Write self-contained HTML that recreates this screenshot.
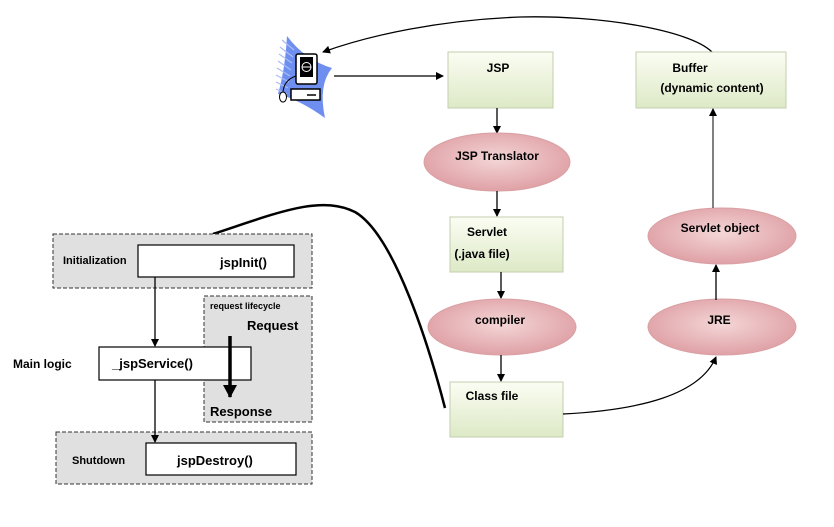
<!DOCTYPE html>
<html><head><style>
body{margin:0;background:#fff;width:834px;height:522px;overflow:hidden}
svg text{font-family:"Liberation Sans",sans-serif;font-weight:bold}
</style></head><body>
<svg width="834" height="522" viewBox="0 0 834 522" xmlns="http://www.w3.org/2000/svg">
<defs>
<linearGradient id="g" x1="0" y1="0" x2="0" y2="1"><stop offset="0" stop-color="#fbfdf3"/><stop offset="1" stop-color="#dde9c6"/></linearGradient>
<radialGradient id="r" cx="0.5" cy="0.45" r="0.6"><stop offset="0" stop-color="#f4d6d7"/><stop offset="1" stop-color="#dd9ca1"/></radialGradient>
<marker id="a" markerWidth="8" markerHeight="8" refX="7" refY="4" orient="auto" markerUnits="userSpaceOnUse"><path d="M0,0 L8,4 L0,8z" fill="#000"/></marker>
<marker id="b" markerWidth="14" markerHeight="14" refX="12" refY="7" orient="auto" markerUnits="userSpaceOnUse"><path d="M0,0 L13,7 L0,14z" fill="#000"/></marker>
</defs>
<!-- computer icon -->
<path d="M287,36 Q305,60 332,68 Q318,85 325,118 Q300,100 278,94 Q285,70 287,36 Z" fill="#6f8ff0"/>
<g stroke="#a9bcf5" stroke-width="1.2">
<path d="M282,40 L294,50 M280,47 L293,57 M279,54 L292,63 M278,61 L291,70 M277,68 L290,76 M276,75 L289,82 M276,82 L288,88 M276,89 L287,94"/>
</g>
<rect x="296" y="54" width="21" height="30" rx="2" fill="#fff" stroke="#000" stroke-width="1.5"/>
<rect x="300" y="57" width="13" height="20" fill="#000"/>
<circle cx="306.5" cy="67" r="4.5" fill="none" stroke="#fff"/>
<line x1="302" y1="67" x2="311" y2="67" stroke="#fff"/>
<rect x="291" y="89" width="29" height="11" fill="#fff" stroke="#000" stroke-width="1.5"/>
<line x1="307" y1="95" x2="316" y2="95" stroke="#000" stroke-width="1.5"/>
<ellipse cx="283" cy="97" rx="3.5" ry="5" fill="#fff" stroke="#000"/>
<path d="M296,76 Q284,80 283,92" fill="none" stroke="#000"/>
<!-- top connections -->
<path d="M712,52 C690,30 600,15 520,17 C440,20 370,35 323,52" fill="none" stroke="#000" stroke-width="1.3" marker-end="url(#a)"/>
<line x1="334" y1="76" x2="443" y2="76" stroke="#000" stroke-width="1.3" marker-end="url(#a)"/>
<!-- right flow -->
<rect x="448" y="52" width="105" height="56" fill="url(#g)" stroke="#c3ceae"/>
<text x="498" y="72" font-size="12" text-anchor="middle">JSP</text>
<rect x="636" y="52" width="150" height="56" fill="url(#g)" stroke="#c3ceae"/>
<text x="690" y="72" font-size="12" text-anchor="middle">Buffer</text>
<text x="712" y="92" font-size="12" text-anchor="middle">(dynamic content)</text>
<line x1="497" y1="108" x2="497" y2="133" stroke="#000" stroke-width="1.3" marker-end="url(#a)"/>
<ellipse cx="497" cy="162" rx="73" ry="29" fill="url(#r)" stroke="#d9a0a4"/>
<text x="497" y="160" font-size="12" text-anchor="middle">JSP  Translator</text>
<line x1="497" y1="191" x2="497" y2="216" stroke="#000" stroke-width="1.3" marker-end="url(#a)"/>
<rect x="450" y="217" width="113" height="55" fill="url(#g)" stroke="#c3ceae"/>
<text x="487" y="236" font-size="12" text-anchor="middle">Servlet</text>
<text x="482" y="258" font-size="12" text-anchor="middle">(.java file)</text>
<line x1="501" y1="272" x2="501" y2="298" stroke="#000" stroke-width="1.3" marker-end="url(#a)"/>
<ellipse cx="502" cy="327" rx="74" ry="28" fill="url(#r)" stroke="#d9a0a4"/>
<text x="500" y="324" font-size="12" text-anchor="middle">compiler</text>
<line x1="501" y1="355" x2="501" y2="381" stroke="#000" stroke-width="1.3" marker-end="url(#a)"/>
<rect x="450" y="382" width="113" height="55" fill="url(#g)" stroke="#c3ceae"/>
<text x="492" y="400" font-size="12" text-anchor="middle">Class file</text>
<path d="M563,414 C640,410 700,395 716,357" fill="none" stroke="#000" stroke-width="1.2" marker-end="url(#a)"/>
<ellipse cx="722" cy="327" rx="74" ry="28" fill="url(#r)" stroke="#d9a0a4"/>
<text x="719" y="324" font-size="12" text-anchor="middle">JRE</text>
<line x1="716" y1="300" x2="716" y2="265" stroke="#000" stroke-width="1.3" marker-end="url(#a)"/>
<ellipse cx="722" cy="236" rx="74" ry="28" fill="url(#r)" stroke="#d9a0a4"/>
<text x="720" y="232" font-size="12" text-anchor="middle">Servlet object</text>
<line x1="713" y1="208" x2="713" y2="109" stroke="#555" stroke-width="1.5" marker-end="url(#a)"/>
<!-- big curve -->
<path d="M213,234 C280,212 320,195 355,212 C395,235 430,350 445,408" fill="none" stroke="#000" stroke-width="2.5"/>
<!-- left lifecycle -->
<rect x="53" y="234" width="259" height="54" fill="#e0e0e0" stroke="#333" stroke-dasharray="4,2"/>
<rect x="138" y="245" width="156" height="32" fill="#fff" stroke="#000" stroke-width="1.2"/>
<text x="63" y="264" font-size="11">Initialization</text>
<text x="220" y="267" font-size="13">jspInit()</text>
<rect x="204" y="296" width="108" height="126" fill="#e0e0e0" stroke="#333" stroke-dasharray="4,2"/>
<text x="210" y="309" font-size="9">request lifecycle</text>
<text x="247" y="330" font-size="13">Request</text>
<text x="210" y="416" font-size="13">Response</text>
<line x1="155" y1="277" x2="155" y2="346" stroke="#000" stroke-width="1.3" marker-end="url(#a)"/>
<rect x="99" y="347" width="152" height="33" fill="#fff" stroke="#000" stroke-width="1.2"/>
<text x="112" y="368" font-size="13">_jspService()</text>
<text x="13" y="368" font-size="12">Main logic</text>
<line x1="230" y1="336" x2="230" y2="397" stroke="#000" stroke-width="3.5" marker-end="url(#b)"/>
<rect x="56" y="432" width="256" height="52" fill="#e0e0e0" stroke="#333" stroke-dasharray="4,2"/>
<line x1="155" y1="380" x2="155" y2="442" stroke="#000" stroke-width="1.3" marker-end="url(#a)"/>
<rect x="146" y="443" width="150" height="32" fill="#fff" stroke="#000" stroke-width="1.2"/>
<text x="72" y="464" font-size="11">Shutdown</text>
<text x="177" y="465" font-size="13">jspDestroy()</text>
</svg>
</body></html>
